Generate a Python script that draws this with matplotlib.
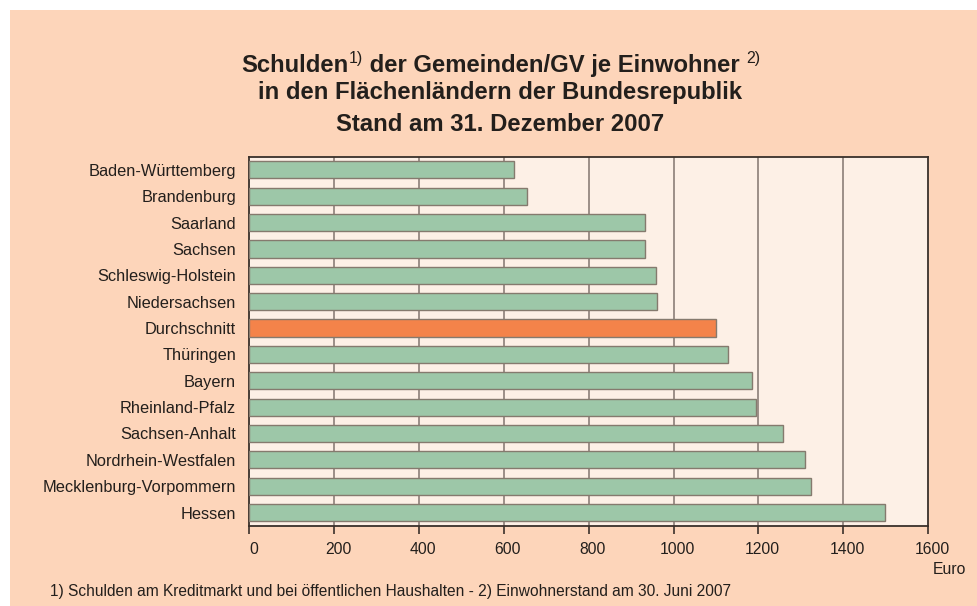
import matplotlib
matplotlib.use("Agg")
import matplotlib.pyplot as plt
from matplotlib.patches import Rectangle
from matplotlib.transforms import ScaledTranslation

plt.rcParams['font.family'] = ['Liberation Sans', 'DejaVu Sans']

categories = ["Baden-Württemberg", "Brandenburg", "Saarland", "Sachsen",
              "Schleswig-Holstein", "Niedersachsen", "Durchschnitt", "Thüringen",
              "Bayern", "Rheinland-Pfalz", "Sachsen-Anhalt", "Nordrhein-Westfalen",
              "Mecklenburg-Vorpommern", "Hessen"]
values = [624, 654, 932, 932, 958, 960, 1099, 1128, 1186, 1194, 1258, 1311, 1324, 1498]
highlight = "Durchschnitt"
xticks = [0, 200, 400, 600, 800, 1000, 1200, 1400, 1600]

W, H = 978, 606
fig = plt.figure(figsize=(W / 100, H / 100), dpi=100)
fig.patch.set_facecolor("white")
fig.patches.append(Rectangle((10 / W, 0), (W - 10) / W, (H - 10) / H,
                             transform=fig.transFigure, facecolor="#FDD5BA",
                             edgecolor="none", zorder=-10))

ax = fig.add_axes([249.5 / W, 1 - 525.7 / H, (928 - 249.5) / W, (525.7 - 156.7) / H])
ax.set_facecolor("#FDF0E6")

green = "#9DC7A8"
orange = "#F4834A"
colors = [orange if c == highlight else green for c in categories]
ypos = list(range(len(categories)))
ax.barh(ypos, values, height=0.65, color=colors, edgecolor="#857a6e",
        linewidth=1.0, zorder=3)

ax.set_xlim(0, 1600)
ax.set_ylim(len(categories) - 0.5, -0.5)
ax.set_xticks(xticks)
ax.set_xticklabels([str(t) for t in xticks], fontsize=11.3, color="#231f1c")
ax.set_yticks(ypos)
ax.set_yticklabels(categories, fontsize=11.8, color="#231f1c")
ax.tick_params(axis="y", length=0, pad=9.7)
ax.tick_params(axis="x", length=6, width=1.2, color="#3a302a", pad=6, direction="out")
for t in xticks[1:-1]:
    ax.axvline(t, color="#8c7f78", linewidth=1.2, zorder=1)
for s in ax.spines.values():
    s.set_color("#3a302a")
    s.set_linewidth(1.3)

fig.canvas.draw()
renderer = fig.canvas.get_renderer()
offset = ScaledTranslation(4 / 100, 0, fig.dpi_scale_trans)
for tick in ax.xaxis.get_major_ticks():
    tick.label1.set_transform(tick.label1.get_transform() + offset)

tc = "#231f1c"
tfs = 17.2
# Title
fig.text(500 / W, 1 - 99 / H, "in den Flächenländern der Bundesrepublik",
         ha="center", va="baseline", fontsize=tfs, fontweight="bold", color=tc)
fig.text(500 / W, 1 - 131 / H, "Stand am 31. Dezember 2007",
         ha="center", va="baseline", fontsize=tfs, fontweight="bold", color=tc)

# line 1 with superscripts, laid out piecewise
pieces = [("Schulden", tfs, "bold", 0), ("1)", 11.5, "normal", 9),
          (" der Gemeinden/GV je Einwohner ", tfs, "bold", 0), ("2)", 11.5, "normal", 9)]
objs = []
total = 0
for txt, fs, fw, dy in pieces:
    t = fig.text(0, 0, txt, fontsize=fs, fontweight=fw, color=tc, ha="left",
                 va="baseline")
    bb = t.get_window_extent(renderer=renderer)
    objs.append((t, bb.width, dy))
    total += bb.width
x = 500.5 - total / 2
base = H - 71.7
for t, w, dy in objs:
    t.set_position((x / W, (base + dy) / H))
    x += w

fig.text(966 / W, 1 - 569 / H, "Euro", ha="right", va="center", fontsize=11.3, color=tc)
fig.text(50 / W, 1 - 596 / H,
         "1) Schulden am Kreditmarkt und bei öffentlichen Haushalten - 2) Einwohnerstand am 30. Juni 2007",
         ha="left", va="baseline", fontsize=11.2, color=tc)

fig.savefig("out.png", dpi=100, facecolor=fig.get_facecolor())
